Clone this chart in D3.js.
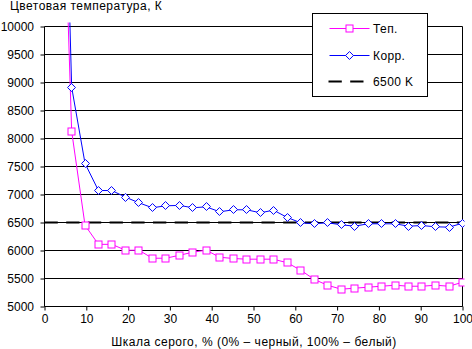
<!DOCTYPE html>
<html><head><meta charset="utf-8">
<script src="https://cdn.jsdelivr.net/npm/d3@7"></script>
<style>
html,body{margin:0;padding:0;background:#fff;}
svg{display:block;font-family:"Liberation Sans",Arial,sans-serif;}
</style></head>
<body>
<svg id="chart" width="472" height="349"></svg>
<script>
const grayLevels = [3.2, 6.5, 9.7, 12.9, 16.1, 19.4, 22.6, 25.8, 29.0, 32.3, 35.5, 38.7, 41.9, 45.2, 48.4, 51.6, 54.8, 58.1, 61.3, 64.5, 67.7, 71.0, 74.2, 77.4, 80.6, 83.9, 87.1, 90.3, 93.5, 96.8, 100];
const tepValues = [15800, 8130, 6450, 6110, 6110, 6005, 6005, 5862, 5862, 5915, 5970, 6005, 5880, 5857, 5845, 5845, 5845, 5780, 5648, 5485, 5380, 5309, 5327, 5345, 5362, 5380, 5362, 5362, 5380, 5362, 5434];
const korrValues = [17900, 8916, 7554, 7071, 7071, 6952, 6852, 6763, 6798, 6805, 6763, 6780, 6691, 6727, 6727, 6673, 6720, 6589, 6495, 6477, 6495, 6459, 6434, 6477, 6477, 6477, 6434, 6446, 6423, 6417, 6488];
const refLine = [[0, 6500], [100, 6500]];
const xTicks = [0, 10, 20, 30, 40, 50, 60, 70, 80, 90, 100];
const yTicks = [5000, 5500, 6000, 6500, 7000, 7500, 8000, 8500, 9000, 9500, 10000];
const seriesNames = ["Теп.", "Корр.", "6500 K"];
const yTitle = "Цветовая температура, К";
const xTitle = "Шкала серого, % (0% – черный, 100% – белый)";

const svg = d3.select("#chart");
const x = d3.scaleLinear().domain([0, 100]).range([44, 462]);
const y = d3.scaleLinear().domain([5000, 10000]).range([306, 26]);
const g = svg.append("g").attr("transform", "translate(0.5,0.5)");

// gridlines
g.selectAll(".grid").data(yTicks).join("line")
  .attr("x1", x(0)).attr("x2", x(100))
  .attr("y1", d => y(d)).attr("y2", d => y(d))
  .attr("stroke", "#000").attr("stroke-width", 1);
// right border
g.append("line").attr("x1", x(100)).attr("x2", x(100)).attr("y1", y(10000)).attr("y2", y(5000)).attr("stroke", "#000");

// axes
const yAxis = d3.axisLeft(y).tickValues(yTicks).tickSize(4).tickPadding(6).tickFormat(d3.format("d"));
const ya = g.append("g").attr("transform", `translate(${x(0)},0)`).call(yAxis);
const xAxis = d3.axisBottom(x).tickValues(xTicks).tickSize(4).tickPadding(4).tickFormat(d3.format("d"));
const xa = g.append("g").attr("transform", `translate(0,${y(5000)})`).call(xAxis);
[ya, xa].forEach(a => {
  a.select(".domain").attr("stroke", "#000").attr("d", null);
  a.selectAll(".tick line").attr("stroke", "#000");
  a.selectAll("text").attr("font-size", 12).attr("fill", "#000").attr("font-family", "Liberation Sans, Arial, sans-serif");
});
ya.selectAll(".tick text").attr("x", -10.5);
g.append("line").attr("x1", x(0)).attr("x2", x(0)).attr("y1", y(10000)).attr("y2", y(5000)).attr("stroke", "#000");
g.append("line").attr("x1", x(0)).attr("x2", x(100)).attr("y1", y(5000)).attr("y2", y(5000)).attr("stroke", "#000");

// clip
svg.append("defs").append("clipPath").attr("id", "clip").append("rect")
  .attr("x", x(0)).attr("y", y(10000) - 4).attr("width", x(100) - x(0) + 2).attr("height", y(5000) - y(10000) + 5);

const plot = g.append("g").attr("clip-path", "url(#clip)");

// 6500 reference
plot.append("path").datum(refLine)
  .attr("d", d3.line().x(d => x(d[0])).y(d => y(d[1])))
  .attr("stroke", "#000").attr("stroke-width", 2.2).attr("stroke-dasharray", "13.3,8.4").attr("fill", "none");

const tepData = grayLevels.map((v, i) => [v, tepValues[i]]);
const korrData = grayLevels.map((v, i) => [v, korrValues[i]]);
const line = d3.line().x(d => x(d[0])).y(d => y(d[1]));

plot.append("path").datum(tepData).attr("d", line).attr("stroke", "#FF00FF").attr("fill", "none").attr("stroke-width", 1);
plot.append("path").datum(korrData).attr("d", line).attr("stroke", "#0000FF").attr("fill", "none").attr("stroke-width", 1);

plot.selectAll(".sq").data(tepData).join("rect")
  .attr("x", d => Math.round(x(d[0])) - 3.5).attr("y", d => Math.round(y(d[1])) - 3.5)
  .attr("width", 7).attr("height", 7)
  .attr("fill", "#fff").attr("stroke", "#FF00FF").attr("stroke-width", 1);

const diamond = d3.symbol().type(d3.symbolDiamond2).size(40);
plot.selectAll(".dm").data(korrData).join("path")
  .attr("transform", d => `translate(${Math.round(x(d[0]))},${Math.round(y(d[1]))})`)
  .attr("d", diamond)
  .attr("fill", "#fff").attr("stroke", "#0000FF").attr("stroke-width", 1);

// titles
svg.append("text").attr("x", 10).attr("y", 10).attr("font-size", 12).attr("letter-spacing", 0.48).text(yTitle);
svg.append("text").attr("x", 254).attr("y", 346).attr("text-anchor", "middle").attr("font-size", 12).attr("letter-spacing", 0.5).text(xTitle);

// legend
const lg = g.append("g");
lg.append("rect").attr("x", 312).attr("y", 13).attr("width", 115).attr("height", 83).attr("fill", "#fff").attr("stroke", "#000");
const ly = [28, 55, 81];
lg.append("line").attr("x1", 329).attr("x2", 369).attr("y1", ly[0]).attr("y2", ly[0]).attr("stroke", "#FF00FF");
lg.append("rect").attr("x", 345.5).attr("y", ly[0] - 3.5).attr("width", 7).attr("height", 7).attr("fill", "#fff").attr("stroke", "#FF00FF");
lg.append("line").attr("x1", 329).attr("x2", 369).attr("y1", ly[1]).attr("y2", ly[1]).attr("stroke", "#0000FF");
lg.append("path").attr("transform", `translate(349,${ly[1]})`).attr("d", diamond).attr("fill", "#fff").attr("stroke", "#0000FF");
lg.append("line").attr("x1", 328).attr("x2", 364).attr("y1", ly[2]).attr("y2", ly[2]).attr("stroke", "#000").attr("stroke-width", 2.2).attr("stroke-dasharray", "13.3,8.4");
seriesNames.forEach((n, i) => {
  lg.append("text").attr("x", 372.5).attr("y", ly[i]).attr("dy", "0.35em").attr("font-size", 12).attr("letter-spacing", 0.4).attr("font-family", "Liberation Sans, Arial, sans-serif").text(n);
});
</script>
</body></html>
